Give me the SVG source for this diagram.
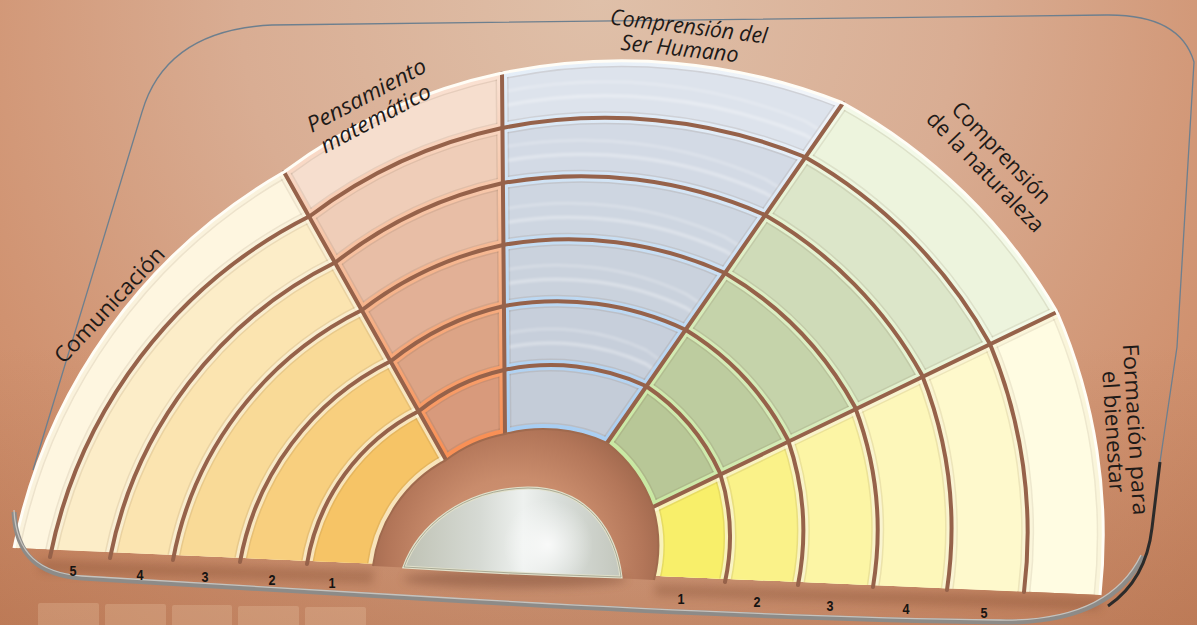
<svg xmlns="http://www.w3.org/2000/svg" width="1197" height="625" viewBox="0 0 1197 625">
<style>
.lbl{font-family:"Open Sans","Noto Sans","DejaVu Sans",sans-serif;font-size:22px;fill:#1e1a18}
.it{font-style:italic}
.num{font-family:"Liberation Sans","DejaVu Sans",sans-serif;font-weight:bold;font-size:15px;fill:#161412;text-anchor:middle}
.brown{fill:none;stroke:#96624a;stroke-width:4;stroke-linecap:round}
.dk{stroke:#5a3a20;stroke-opacity:.10;stroke-width:13}
.refl{fill:#f8dcbc;opacity:.22}
</style>
<defs>
<radialGradient id="bg" cx="600" cy="0" r="900" gradientUnits="userSpaceOnUse">
<stop offset="0" stop-color="#dfc0a9"/><stop offset="0.4" stop-color="#d9ad93"/><stop offset="0.75" stop-color="#d09270"/><stop offset="1" stop-color="#c8835e"/>
</radialGradient>
<linearGradient id="shade" x1="0" y1="0" x2="0" y2="1">
<stop offset="0.55" stop-color="#7a3f20" stop-opacity="0"/><stop offset="1" stop-color="#7a3f20" stop-opacity="0.16"/>
</linearGradient>
<radialGradient id="hub" cx="515" cy="560" r="150" gradientUnits="userSpaceOnUse">
<stop offset="0" stop-color="#d59a7c"/><stop offset="0.55" stop-color="#c98c6c"/><stop offset="0.85" stop-color="#b37659"/><stop offset="1" stop-color="#a36a4f"/>
</radialGradient>
<linearGradient id="dome" x1="0" y1="0" x2="1" y2="0">
<stop offset="0" stop-color="#bfc2b4"/><stop offset="0.35" stop-color="#d6dad4"/><stop offset="0.55" stop-color="#eef1ef"/><stop offset="0.72" stop-color="#d8ddd9"/><stop offset="1" stop-color="#c3c7bd"/>
</linearGradient>
<radialGradient id="domeHi" cx="548" cy="545" r="45" gradientUnits="userSpaceOnUse">
<stop offset="0" stop-color="#ffffff" stop-opacity="0.8"/><stop offset="1" stop-color="#ffffff" stop-opacity="0"/>
</radialGradient>
<radialGradient id="bvPens" cx="512" cy="574" r="560" gradientUnits="userSpaceOnUse">
<stop offset="0.25" stop-color="#f99055"/><stop offset="0.55" stop-color="#f6b48c"/><stop offset="0.85" stop-color="#f9dccb"/><stop offset="1" stop-color="#fdf0e6"/>
</radialGradient>
<radialGradient id="bvBlue" cx="512" cy="574" r="560" gradientUnits="userSpaceOnUse">
<stop offset="0.25" stop-color="#a7cdf2"/><stop offset="0.6" stop-color="#c5ddf3"/><stop offset="1" stop-color="#f0f4f9"/>
</radialGradient>
<radialGradient id="bvGreen" cx="512" cy="574" r="560" gradientUnits="userSpaceOnUse">
<stop offset="0.25" stop-color="#c7e8a0"/><stop offset="0.6" stop-color="#d8ecbc"/><stop offset="1" stop-color="#f3f9e8"/>
</radialGradient>
<filter id="blur" x="-20%" y="-50%" width="140%" height="200%"><feGaussianBlur stdDeviation="5"/></filter>
<filter id="soft" x="-5%" y="-20%" width="110%" height="140%"><feGaussianBlur stdDeviation="1.6"/></filter>

<path id="r0" d="M373,566 A140,140 0 0 1 446,460 A140,140 0 0 1 505,434 A151,151 0 0 1 607,443 A140,140 0 0 1 653,507 A140,140 0 0 1 654,580"/>
<path id="r1" d="M307,564 A210,210 0 0 1 419,411 A210,210 0 0 1 504,370 A227,227 0 0 1 646,386 A210,210 0 0 1 720,473 A210,210 0 0 1 725,582"/>
<path id="r2" d="M240,562 A280,280 0 0 1 391,361 A280,280 0 0 1 504,306 A302,302 0 0 1 686,330 A280,280 0 0 1 788,440 A280,280 0 0 1 798,585"/>
<path id="r3" d="M173,560 A350,350 0 0 1 362,310 A350,350 0 0 1 503,245 A378,378 0 0 1 725,273 A350,350 0 0 1 855,407 A350,350 0 0 1 873,587"/>
<path id="r4" d="M110,558 A420,420 0 0 1 336,262 A420,420 0 0 1 503,183 A454,454 0 0 1 765,215 A420,420 0 0 1 922,375 A420,420 0 0 1 947,590"/>
<path id="r5" d="M50,557 A490,490 0 0 1 310,216 A490,490 0 0 1 502,128 A529,529 0 0 1 805,157 A490,490 0 0 1 990,344 A490,490 0 0 1 1024,592"/>
<path id="r6" d="M14,548 A560,560 0 0 1 284,172 A560,560 0 0 1 502,73 A600,600 0 0 1 843,103 A560,560 0 0 1 1057,312 A560,560 0 0 1 1100,595"/>
<path id="l1" d="M446,460 L284,172"/>
<path id="l2" d="M505,434 L502,73"/>
<path id="l3" d="M607,443 L843,103"/>
<path id="l4" d="M653,507 L1057,312"/>
<g id="rings" fill="none"><use href="#r1"/><use href="#r2"/><use href="#r3"/><use href="#r4"/><use href="#r5"/><use href="#r6"/></g>
<g id="lines" fill="none"><use href="#r1"/><use href="#r2"/><use href="#r3"/><use href="#r4"/><use href="#r5"/><use href="#l1"/><use href="#l2"/><use href="#l3"/><use href="#l4"/></g>
<g id="grid" fill="none"><use href="#lines"/><use href="#r0"/><use href="#r6"/></g>

<clipPath id="cOuter"><use href="#r6"/></clipPath>
<clipPath id="wCom"><polygon points="512,574 446,460 153,-60 -60,-60 -60,640 512,640"/></clipPath>
<clipPath id="wPens"><polygon points="512,574 446,460 153,-60 501,-60 505,434"/></clipPath>
<clipPath id="wBlue"><polygon points="512,574 505,434 501,-60 956,-60 607,443"/></clipPath>
<clipPath id="wGreen"><polygon points="512,574 607,443 956,-60 1260,-60 1260,214 653,507"/></clipPath>
<clipPath id="wYel"><polygon points="512,574 653,507 1260,214 1260,640 512,640"/></clipPath>
</defs>

<rect width="1197" height="625" fill="url(#bg)"/>
<rect width="1197" height="625" fill="url(#shade)"/>

<g id="plate">
<path d="M33,470 L142,112 Q166,30 272,25 L1106,15 Q1180,14 1194,62 L1177,347 L1160,462" fill="none" stroke="#6d7f8e" stroke-width="1.3"/>
<path d="M40,560 L375,570 L372,584 L40,572 Z M655,584 L1100,598 L1100,610 L655,596 Z" fill="#6e3a22" opacity="0.28" filter="url(#blur)"/>
<g id="reflection">
<rect class="refl" x="38" y="603" width="61" height="30" rx="2"/>
<rect class="refl" x="105" y="604" width="61" height="30" rx="2"/>
<rect class="refl" x="172" y="605" width="60" height="30" rx="2"/>
<rect class="refl" x="238" y="606" width="61" height="30" rx="2"/>
<rect class="refl" x="305" y="607" width="61" height="30" rx="2"/>
</g>
</g>

<g id="wheel" clip-path="url(#cOuter)">
<g id="sector-comunicacion" clip-path="url(#wCom)">
<use href="#r6" fill="#fef6e0"/><use href="#r5" fill="#fcedc8"/><use href="#r4" fill="#fbe4b0"/><use href="#r3" fill="#f9da97"/><use href="#r2" fill="#f8cf7e"/><use href="#r1" fill="#f6c466"/>
<use href="#grid" class="dk"/>
<use href="#grid" stroke="#fff8e2" stroke-opacity="0.7" stroke-width="10"/>
</g>
<g id="sector-pensamiento" clip-path="url(#wPens)">
<use href="#r6" fill="#f6dece"/><use href="#r5" fill="#efcdb8"/><use href="#r4" fill="#e8bea6"/><use href="#r3" fill="#e2b096"/><use href="#r2" fill="#dca486"/><use href="#r1" fill="#d89a7c"/>
<use href="#grid" class="dk"/>
<use href="#grid" stroke="url(#bvPens)" stroke-width="10"/>
</g>
<g id="sector-ser-humano" clip-path="url(#wBlue)">
<use href="#r6" fill="#dde3ec"/><use href="#r5" fill="#d3dae5"/><use href="#r4" fill="#ced6e1"/><use href="#r3" fill="#cad2dd"/><use href="#r2" fill="#c7cfdb"/><use href="#r1" fill="#c4ccd8"/>
<g filter="url(#soft)" opacity="0.45">
<use href="#rings" stroke="#ffffff" stroke-width="2.5" transform="translate(0,-22)"/>
<use href="#rings" stroke="#ffffff" stroke-width="1.5" transform="translate(0,-36)"/>
</g>
<use href="#grid" class="dk"/>
<use href="#grid" stroke="url(#bvBlue)" stroke-width="10"/>
</g>
<g id="sector-naturaleza" clip-path="url(#wGreen)">
<use href="#r6" fill="#edf4dd"/><use href="#r5" fill="#dce6c9"/><use href="#r4" fill="#cfdbb8"/><use href="#r3" fill="#c5d3aa"/><use href="#r2" fill="#bdcc9f"/><use href="#r1" fill="#b8c797"/>
<use href="#grid" class="dk"/>
<use href="#grid" stroke="url(#bvGreen)" stroke-width="10"/>
</g>
<g id="sector-bienestar" clip-path="url(#wYel)">
<use href="#r6" fill="#fffce2"/><use href="#r5" fill="#fef9cc"/><use href="#r4" fill="#fdf7ba"/><use href="#r3" fill="#fcf5a5"/><use href="#r2" fill="#faf289"/><use href="#r1" fill="#f8ef6a"/>
<use href="#grid" class="dk"/>
<use href="#grid" stroke="#fffbe0" stroke-opacity="0.7" stroke-width="10"/>
</g>
</g>

<g id="grid-lines">
<use href="#lines" class="brown"/>
<use href="#r6" fill="none" stroke="#fffdf6" stroke-width="3"/>
</g>

<g id="hub">
<use href="#r0" fill="url(#hub)" stroke="#a06a4e" stroke-width="2"/>
<ellipse cx="515" cy="579" rx="112" ry="9" fill="#7a4a34" opacity="0.45" filter="url(#blur)"/>
<path d="M404,567 C418,528 462,489 528,488 C590,488 616,535 621,577 Q512,574 404,567 Z" fill="url(#dome)" stroke="#e2e1cb" stroke-width="3"/>
<path d="M404,567 C418,528 462,489 528,488 C590,488 616,535 621,577 Q512,574 404,567 Z" fill="url(#domeHi)"/>
<path d="M404,567 C418,528 462,489 528,488 C590,488 616,535 621,577 Q512,574 404,567 Z" fill="none" stroke="#9a9c88" stroke-width="0.8"/>
</g>

<g id="base-edge">
<path d="M14,512 C16,556 40,575 82,578 L400,597 Q760,619 1000,622 Q1110,624 1143,556" fill="none" stroke="#8d8b88" stroke-width="5"/>
<path d="M14,510 C16,554 40,573 82,576 L400,595 Q760,617 1000,620 Q1108,622 1141,555" fill="none" stroke="#c6c3be" stroke-width="1.3"/>
<path d="M1160,462 L1152,528 Q1146,580 1108,606" fill="none" stroke="#2c2b2a" stroke-width="3"/>
</g>

<g id="numbers">
<text class="num" x="73" y="576" textLength="7" lengthAdjust="spacingAndGlyphs">5</text>
<text class="num" x="140" y="580" textLength="7" lengthAdjust="spacingAndGlyphs">4</text>
<text class="num" x="205" y="582" textLength="7" lengthAdjust="spacingAndGlyphs">3</text>
<text class="num" x="272" y="585" textLength="7" lengthAdjust="spacingAndGlyphs">2</text>
<text class="num" x="332" y="588" textLength="7" lengthAdjust="spacingAndGlyphs">1</text>
<text class="num" x="681" y="604" textLength="7" lengthAdjust="spacingAndGlyphs">1</text>
<text class="num" x="757" y="607" textLength="7" lengthAdjust="spacingAndGlyphs">2</text>
<text class="num" x="830" y="611" textLength="7" lengthAdjust="spacingAndGlyphs">3</text>
<text class="num" x="906" y="614" textLength="7" lengthAdjust="spacingAndGlyphs">4</text>
<text class="num" x="984" y="618" textLength="7" lengthAdjust="spacingAndGlyphs">5</text>
</g>

<g id="labels">
<text class="lbl" transform="translate(115,310) rotate(-47)" text-anchor="middle" textLength="150" lengthAdjust="spacingAndGlyphs">Comunicación</text>
<text class="lbl it" transform="translate(370,102) rotate(-28)" text-anchor="middle" textLength="132" lengthAdjust="spacingAndGlyphs">Pensamiento</text>
<text class="lbl it" transform="translate(379,125) rotate(-28)" text-anchor="middle" textLength="122" lengthAdjust="spacingAndGlyphs">matemático</text>
<text class="lbl it" transform="translate(688,34) rotate(7)" text-anchor="middle" textLength="158" lengthAdjust="spacingAndGlyphs">Comprensión del</text>
<text class="lbl it" transform="translate(679,56) rotate(6)" text-anchor="middle" textLength="118" lengthAdjust="spacingAndGlyphs">Ser Humano</text>
<text class="lbl" transform="translate(996,158) rotate(46)" text-anchor="middle" textLength="132" lengthAdjust="spacingAndGlyphs">Comprensión</text>
<text class="lbl" transform="translate(980,177) rotate(46)" text-anchor="middle" textLength="158" lengthAdjust="spacingAndGlyphs">de la naturaleza</text>
<text class="lbl" transform="translate(1128,430) rotate(86.5)" text-anchor="middle" textLength="172" lengthAdjust="spacingAndGlyphs">Formación para</text>
<text class="lbl" transform="translate(1106,432) rotate(86.5)" text-anchor="middle" textLength="122" lengthAdjust="spacingAndGlyphs">el bienestar</text>
</g>
</svg>
